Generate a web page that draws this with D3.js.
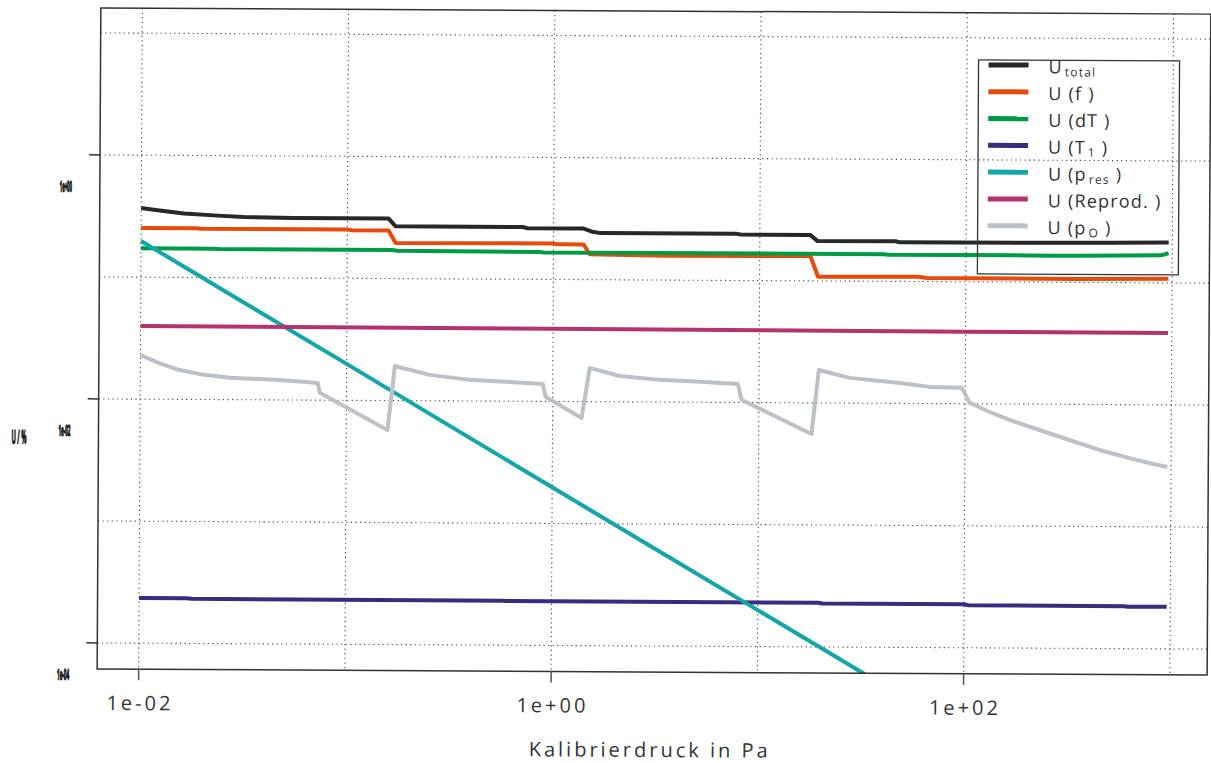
<!DOCTYPE html>
<html>
<head>
<meta charset="utf-8">
<script src="https://cdn.jsdelivr.net/npm/d3@7"></script>
<style>
body { margin: 0; background: #fff; }
svg { font-family: "Open Sans", "DejaVu Sans", sans-serif; }
</style>
</head>
<body>
<div id="visualization"></div>
<script>
// pressure in Pa, uncertainty contributions in %
const xTicks = [0.01, 1, 100];
const xTickLabels = ["1e-02", "1e+00", "1e+02"];
const xGrid = [0.01, 0.1, 1, 10, 100, 1000];
const yTicks = [1, 0.01, 0.0001];
const yTickLabels = ["1e+00", "1e-02", "1e-04"];
const yGrid = [10, 1, 0.1, 0.01, 0.001, 0.0001];

const uTotal = [[0.01, 0.369], [0.0115, 0.358], [0.01285, 0.350], [0.0161, 0.334], [0.0235, 0.322], [0.0314, 0.315],
    [0.0549, 0.310], [0.1585, 0.310], [0.1714, 0.268], [0.708, 0.268], [0.748, 0.262], [1.398, 0.262],
    [1.546, 0.247], [1.69, 0.241], [7.63, 0.242], [8.07, 0.238], [17.6, 0.238], [19.06, 0.212],
    [45.5, 0.213], [47.6, 0.209], [200, 0.210], [500, 0.212], [960, 0.214]];
const uF = [[0.01, 0.253], [0.0185, 0.253], [0.0195, 0.251], [0.10, 0.251], [0.105, 0.248],
    [0.1585, 0.248], [0.1714, 0.196], [1.0, 0.197], [1.05, 0.194], [1.398, 0.194], [1.50, 0.1615],
    [3.49, 0.1585], [17.6, 0.160], [19.2, 0.1082], [58.9, 0.1095], [65, 0.107], [332, 0.1065], [960, 0.108]];
const uDT = [[0.01, 0.1725], [0.022, 0.1725], [0.024, 0.1715], [0.165, 0.1715], [0.175, 0.169],
    [0.85, 0.168], [0.9, 0.1665], [5.8, 0.1665], [40, 0.1668], [42, 0.1655], [200, 0.1655],
    [260, 0.1645], [360, 0.165], [880, 0.168], [960, 0.175]];
const uT1 = [[0.01, 2.35e-4], [0.017, 2.35e-4], [0.018, 2.32e-4], [0.58, 2.31e-4], [0.6, 2.30e-4],
    [19.7, 2.30e-4], [20.5, 2.27e-4], [100, 2.27e-4], [105, 2.23e-4], [600, 2.23e-4], [620, 2.21e-4],
    [960, 2.21e-4]];
const uPres = [[0.01, 0.198], [0.03, 0.066], [0.1, 0.0199], [0.3, 0.0066], [1, 0.00198], [3, 0.00066],
    [10, 0.000199], [30, 0.0000665], [100, 0.00002]];
const uReprod = [[0.01, 0.0398], [1, 0.0394], [100, 0.039], [960, 0.0388]];
const uP0 = [[0.01, 0.0230], [0.0125, 0.0196], [0.0155, 0.0174], [0.02, 0.0160], [0.0272, 0.0151],
    [0.0475, 0.0146], [0.0725, 0.0138], [0.0742, 0.0115], [0.1585, 0.00574], [0.1714, 0.0192],
    [0.253, 0.0163], [0.396, 0.0149], [0.619, 0.0144], [0.894, 0.0139], [0.925, 0.0109],
    [1.382, 0.00734], [1.511, 0.0189], [2.113, 0.0163], [3.303, 0.0152], [5.16, 0.0147], [7.89, 0.0142],
    [8.25, 0.0105], [18.02, 0.00556], [19.49, 0.0186], [27.54, 0.0161], [48.1, 0.0147], [67.3, 0.0137],
    [96.2, 0.0135], [105.1, 0.0102], [131.5, 0.00858], [164.4, 0.0074], [229.7, 0.00614], [321, 0.0051],
    [449, 0.00424], [627.7, 0.00365], [784, 0.00333], [960, 0.0031]];

const seriesData = [uTotal, uF, uDT, uT1, uPres, uReprod, uP0];
const seriesColors = ["#25292b", "#e84a0c", "#009b45", "#3b2a80", "#13a6a8", "#b5336c", "#bcc0c7"];
// legend labels: [text, subscript, tail]
const legendLabels = [["U", "total", ""], ["U (f )", "", ""], ["U (dT )", "", ""], ["U (T", "1", " )"],
    ["U (p", "res", " )"], ["U (Reprod. )", "", ""], ["U (p", "O", " )"]];

const svg = d3.select("#visualization")
    .append("svg")
    .attr("width", 1211)
    .attr("height", 763);

// the original scan is tilted a little
const chart = svg.append("g").attr("transform", "rotate(0.32,650,340)");

const frame = {left: 99, right: 1209, top: 11, bottom: 672};

const x = d3.scaleLog().domain([0.01, 1000]).range([140.5, 1171.75]);
const y = d3.scaleLog().domain([10, 0.0001]).range([36, 646]);

svg.append("defs").append("clipPath").attr("id", "plotClip")
    .append("rect")
    .attr("x", frame.left).attr("y", frame.top)
    .attr("width", frame.right - frame.left).attr("height", frame.bottom - frame.top);

// grid
const grid = chart.append("g").attr("id", "grid")
    .attr("stroke", "#444")
    .attr("stroke-width", 1.1)
    .attr("stroke-dasharray", "1.2,3.4");
grid.selectAll("line.v")
    .data(xGrid)
    .enter()
    .append("line")
    .attr("class", "v")
    .attr("x1", d => x(d)).attr("x2", d => x(d))
    .attr("y1", frame.top).attr("y2", frame.bottom);
grid.selectAll("line.h")
    .data(yGrid)
    .enter()
    .append("line")
    .attr("class", "h")
    .attr("x1", frame.left).attr("x2", frame.right)
    .attr("y1", d => y(d)).attr("y2", d => y(d));

// data lines
const line = d3.line().x(d => x(d[0])).y(d => y(d[1]));
chart.append("g").attr("id", "series")
    .attr("clip-path", "url(#plotClip)")
    .selectAll("path")
    .data(seriesData)
    .enter()
    .append("path")
    .attr("d", d => line(d))
    .attr("fill", "none")
    .attr("stroke", (d, i) => seriesColors[i])
    .attr("stroke-width", 4)
    .attr("stroke-linejoin", "round");

// frame
chart.append("rect")
    .attr("x", frame.left).attr("y", frame.top)
    .attr("width", frame.right - frame.left).attr("height", frame.bottom - frame.top)
    .attr("fill", "none")
    .attr("stroke", "#333")
    .attr("stroke-width", 1.5);

// x axis
const xAxis = chart.append("g").attr("id", "x_axis");
xAxis.selectAll("line")
    .data(xTicks)
    .enter()
    .append("line")
    .attr("x1", d => x(d)).attr("x2", d => x(d))
    .attr("y1", frame.bottom).attr("y2", frame.bottom + 11)
    .attr("stroke", "#555")
    .attr("stroke-width", 1.5);
xAxis.selectAll("text")
    .data(xTicks)
    .enter()
    .append("text")
    .attr("x", d => x(d) + 1.5)
    .attr("y", frame.bottom + 41)
    .attr("text-anchor", "middle")
    .attr("font-size", 20)
    .attr("letter-spacing", 3)
    .attr("fill", "#333")
    .text((d, i) => xTickLabels[i]);
xAxis.append("text")
    .attr("x", 652)
    .attr("y", 757)
    .attr("text-anchor", "middle")
    .attr("font-size", 20)
    .attr("letter-spacing", 3)
    .attr("fill", "#333")
    .text("Kalibrierdruck in Pa");

// y axis (labels come out squashed in the original)
const yAxis = chart.append("g").attr("id", "y_axis");
yAxis.selectAll("line")
    .data(yTicks)
    .enter()
    .append("line")
    .attr("x1", frame.left - 11).attr("x2", frame.left)
    .attr("y1", d => y(d)).attr("y2", d => y(d))
    .attr("stroke", "#333")
    .attr("stroke-width", 1.5);
yAxis.selectAll("text")
    .data(yTicks)
    .enter()
    .append("text")
    .attr("x", 59)
    .attr("y", d => y(d) + 37)
    .attr("font-size", 15)
    .attr("font-weight", "bold")
    .attr("textLength", 12)
    .attr("lengthAdjust", "spacingAndGlyphs")
    .attr("stroke", "#111")
    .attr("stroke-width", 1.2)
    .attr("fill", "#111")
    .text((d, i) => yTickLabels[i]);
yAxis.append("text")
    .attr("x", 12)
    .attr("y", 447)
    .attr("font-size", 19)
    .attr("font-weight", "bold")
    .attr("textLength", 15)
    .attr("lengthAdjust", "spacingAndGlyphs")
    .attr("stroke", "#111")
    .attr("stroke-width", 1)
    .attr("fill", "#111")
    .text("U / %");

// legend
const legend = chart.append("g").attr("id", "legend");
legend.append("rect")
    .attr("x", 977).attr("y", 58)
    .attr("width", 201).attr("height", 214)
    .attr("fill", "none")
    .attr("stroke", "#333")
    .attr("stroke-width", 1.3);
const rows = legend.selectAll("g.row")
    .data(legendLabels)
    .enter()
    .append("g")
    .attr("class", "row")
    .attr("transform", (d, i) => "translate(0," + (63 + i * 26.8) + ")");
rows.append("line")
    .attr("x1", 987).attr("x2", 1027)
    .attr("y1", 0).attr("y2", 0)
    .attr("stroke", (d, i) => seriesColors[i])
    .attr("stroke-width", 5);
const labels = rows.append("text")
    .attr("x", 1047)
    .attr("y", 8)
    .attr("font-size", 18)
    .attr("letter-spacing", 1.2)
    .attr("fill", "#333");
labels.append("tspan").text(d => d[0]);
labels.append("tspan")
    .attr("font-size", 12)
    .attr("dx", 2)
    .attr("dy", 3)
    .text(d => d[1]);
labels.append("tspan")
    .attr("dy", -3)
    .text(d => d[2]);
</script>
</body>
</html>
